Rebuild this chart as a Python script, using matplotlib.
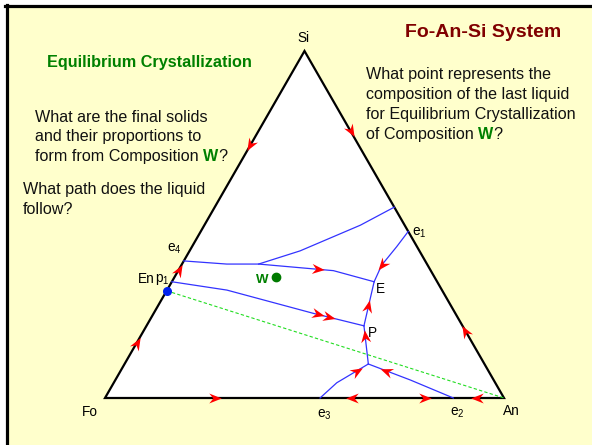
import numpy as np
import matplotlib
matplotlib.use('Agg')
import matplotlib.pyplot as plt
from matplotlib.path import Path
from matplotlib.markers import MarkerStyle
from matplotlib.transforms import Affine2D
from matplotlib.patches import Rectangle, Polygon
from matplotlib.lines import Line2D

plt.rcParams['font.family'] = ['Liberation Sans', 'DejaVu Sans']
plt.rcParams['mathtext.fontset'] = 'custom'
plt.rcParams['mathtext.rm'] = 'Liberation Sans'
plt.rcParams['mathtext.default'] = 'regular'

# ---------------- data: compositions (Fo, An, Si) in percent ----------------
apex_labels = ['Fo', 'An', 'Si']
apex_comp = [(100, 0, 0), (0, 100, 0), (0, 0, 100)]

point_E = (15.8, 50.7, 33.5)
point_P = (24.7, 54.5, 20.8)
point_R = (29.1, 61.1, 9.8)
point_e1 = (0.0, 52.0, 48.0)
point_e2 = (12.7, 87.3, 0.0)
point_e3 = (46.1, 53.9, 0.0)
point_e4 = (60.5, 0.0, 39.5)
point_p1 = (66.5, 0.0, 33.5)
point_J = (42.2, 19.2, 38.6)
point_En = (69.1, 0.0, 30.9)
point_W = (39.8, 25.4, 34.8)

curve_e4_E = [point_e4, (50.2, 11.2, 38.6), point_J, (24.4, 38.9, 36.7), point_E]
curve_J_edge = [point_J, (29.9, 27.7, 42.4), (11.1, 39.1, 49.8), (0.0, 45.0, 55.0)]
curve_p1_P = [point_p1, (53.9, 15.0, 31.1), (35.6, 40.0, 24.4), point_P]
curve_e1_E = [point_e1, (5.1, 51.3, 43.6), (11.5, 50.2, 38.3), point_E]
curve_P_E = [point_P, point_E]
curve_R_P = [point_R, point_P]
curve_e3_R = [point_e3, (39.7, 55.9, 4.4), point_R]
curve_e2_R = [point_e2, (20.9, 73.9, 5.2), point_R]

edge_Fo_Si = [apex_comp[0], apex_comp[2]]
edge_Si_An = [apex_comp[2], apex_comp[1]]
edge_Fo_An = [apex_comp[0], apex_comp[1]]

boundary_curves = [curve_e4_E, curve_J_edge, curve_p1_P, curve_e1_E,
                   curve_P_E, curve_R_P, curve_e3_R, curve_e2_R]

# arrows: (curve, fraction along curve, direction)
arrows = [
    (edge_Fo_Si, 0.158, 1), (edge_Fo_Si, 0.369, 1), (edge_Fo_Si, 0.729, -1),
    (edge_Si_An, 0.231, 1), (edge_Si_An, 0.807, -1),
    (edge_Fo_An, 0.276, 1), (edge_Fo_An, 0.618, -1),
    (edge_Fo_An, 0.802, 1), (edge_Fo_An, 0.932, -1),
    (curve_e4_E, 0.70, 1), (curve_p1_P, 0.76, 1), (curve_p1_P, 0.82, 1),
    (curve_e1_E, 0.70, 1), (curve_P_E, 0.44, 1), (curve_R_P, 0.73, 1),
    (curve_e3_R, 0.77, 1), (curve_e2_R, 0.79, 1),
]

# ---------------- helpers ----------------
SQ = np.sqrt(3) / 2


def tern(comps):
    c = np.atleast_2d(np.array(comps, dtype=float)) / 100.0
    x = c[:, 1] + 0.5 * c[:, 2]
    y = SQ * c[:, 2]
    return x, y


FW, FH = 592, 445
fig = plt.figure(figsize=(FW / 100, FH / 100), dpi=100)
fig.patch.set_facecolor('white')


def fx(x):
    return x / FW


def fy(y):
    return 1 - y / FH


# slide background and frame
fig.patches.append(Rectangle((fx(6), 0), 1 - fx(6), fy(6), transform=fig.transFigure,
                             facecolor='#FFFFCC', edgecolor='none', zorder=-10))
fig.lines.append(Line2D([fx(6.5), fx(6.5)], [0, fy(5)], transform=fig.transFigure,
                        color='black', lw=2.3, zorder=-5))
fig.lines.append(Line2D([fx(5), 1], [fy(5.5), fy(5.5)], transform=fig.transFigure,
                        color='black', lw=2.3, zorder=-5))

ax = fig.add_axes([0, 0, 1, 1])
ax.set_facecolor('none')
ax.axis('off')
sx = 399.0
sy = 347.0 / SQ
ax.set_xlim(-105 / sx, (FW - 105) / sx)
ax.set_ylim((398 - FH) / sy, 398 / sy)

# triangle
tx, ty = tern(apex_comp)
ax.add_patch(Polygon(np.column_stack([tx, ty]), closed=True, facecolor='white',
                     edgecolor='black', lw=1.6, zorder=1, joinstyle='miter'))

# boundary curves
for cv in boundary_curves:
    x, y = tern(cv)
    ax.plot(x, y, color='#3333FF', lw=0.9, zorder=3)

# En - An tie line
x, y = tern([point_En, apex_comp[1]])
ax.plot(x, y, color='#22DD22', lw=0.8, ls=(0, (3, 2)), zorder=2)

# arrows
fig.canvas.draw()
head = Path([(1, 0), (-1, 0.8), (-0.35, 0), (-1, -0.8), (1, 0)],
            [Path.MOVETO, Path.LINETO, Path.LINETO, Path.LINETO, Path.CLOSEPOLY])
for cv, t, d in arrows:
    x, y = tern(cv)
    pts = ax.transData.transform(np.column_stack([x, y]))
    seg = np.hypot(*np.diff(pts, axis=0).T)
    cum = np.concatenate([[0], np.cumsum(seg)])
    L = t * cum[-1]
    i = min(np.searchsorted(cum, L) - 1, len(seg) - 1)
    i = max(i, 0)
    f = (L - cum[i]) / seg[i]
    px = x[i] + f * (x[i + 1] - x[i])
    py = y[i] + f * (y[i + 1] - y[i])
    dx, dy = (pts[i + 1] - pts[i]) * d
    ang = np.degrees(np.arctan2(dy, dx))
    m = MarkerStyle(head, transform=Affine2D().rotate_deg(ang))
    ax.plot([px], [py], marker=m, color='#FF0000', markersize=9, mew=0, zorder=5)

# points
x, y = tern(point_En)
ax.plot(x, y, 'o', color='#0022EE', markersize=5.5, zorder=6)
x, y = tern(point_W)
ax.plot(x, y, 'o', color='#007A00', markersize=6, zorder=6)

# ---------------- text ----------------
GREEN = '#008000'
renderer = fig.canvas.get_renderer()


def T(x, y, s, **kw):
    return fig.text(fx(x), fy(y), s, **kw)


def rich(x, y, parts, size):
    cur = x
    for s, color, weight in parts:
        tt = T(cur, y, s, color=color, fontweight=weight, fontsize=size, va='baseline')
        w = tt.get_window_extent(renderer).width
        cur += w


def sp_width(size):
    a = fig.text(0, 0, 'x x', fontsize=size)
    b = fig.text(0, 0, 'xx', fontsize=size)
    w = a.get_window_extent(renderer).width - b.get_window_extent(renderer).width
    a.remove(); b.remove()
    return w


BODY = 11.6
T(405, 36.7, 'Fo-An-Si System', color='#800000', fontweight='bold', fontsize=14, va='baseline')
T(46.7, 66.5, 'Equilibrium Crystallization', color=GREEN, fontweight='bold', fontsize=11.7,
  va='baseline')

T(35, 121.7, 'What are the final solids', fontsize=BODY, va='baseline', color='#111111')
T(35, 141.5, 'and their proportions to', fontsize=BODY, va='baseline', color='#111111')
spw = sp_width(BODY)
t1 = T(35, 161.3, 'form from Composition', fontsize=BODY, va='baseline', color='#111111')
w1 = t1.get_window_extent(renderer).width + spw
rich(35 + w1, 161.3, [('W', GREEN, 'bold'), ('?', '#111111', 'normal')], BODY)

T(23, 194.3, 'What path does the liquid', fontsize=BODY, va='baseline', color='#111111')
T(23, 214, 'follow?', fontsize=BODY, va='baseline', color='#111111')

T(366, 79, 'What point represents the', fontsize=BODY, va='baseline', color='#111111')
T(366, 99, 'composition of the last liquid', fontsize=BODY, va='baseline', color='#111111')
T(366, 119, 'for Equilibrium Crystallization', fontsize=BODY, va='baseline', color='#111111')
t2 = T(366, 139, 'of Composition', fontsize=BODY, va='baseline', color='#111111')
w2 = t2.get_window_extent(renderer).width + spw
rich(366 + w2, 139, [('W', GREEN, 'bold'), ('?', '#111111', 'normal')], BODY)

LBL = 9.8
T(297, 41.5, 'Si', fontsize=LBL, va='baseline')
T(82, 416, 'Fo', fontsize=LBL, va='baseline')
T(503, 415, 'An', fontsize=LBL, va='baseline')
T(138, 283, 'En', fontsize=LBL, va='baseline')
T(155, 282, 'p$_1$', fontsize=LBL, va='baseline')
T(167, 252, 'e$_4$', fontsize=LBL, va='baseline')
T(412, 236, 'e$_1$', fontsize=LBL, va='baseline')
T(376, 293, 'E', fontsize=LBL, va='baseline')
T(368, 337, 'P', fontsize=LBL, va='baseline')
T(317, 418, 'e$_3$', fontsize=LBL, va='baseline')
T(450, 416, 'e$_2$', fontsize=LBL, va='baseline')
T(256, 283, 'W', fontsize=9.5, fontweight='bold', color=GREEN, va='baseline')

fig.savefig('out.png', dpi=100, facecolor=fig.get_facecolor())
